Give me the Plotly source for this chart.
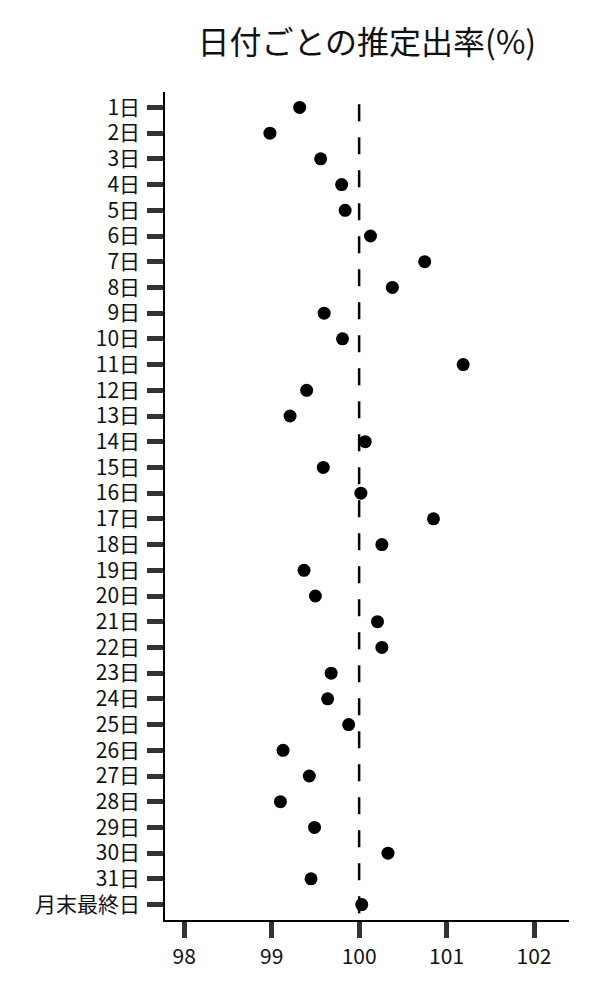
import plotly.graph_objects as go

days = [f"{d}日" for d in range(1, 32)] + ["月末最終日"]
rates = [
    99.32, 98.98, 99.56, 99.80, 99.84, 100.13, 100.75, 100.38, 99.60, 99.81,
    101.19, 99.40, 99.21, 100.07, 99.59, 100.02, 100.85, 100.26, 99.37, 99.50,
    100.21, 100.26, 99.68, 99.64, 99.88, 99.13, 99.43, 99.10, 99.49, 100.33,
    99.45, 100.03,
]
x_ticks = [98, 99, 100, 101, 102]
ref_rate = 100

FONT = "Noto Sans CJK JP"

fig = go.Figure()
fig.add_trace(
    go.Scatter(
        x=rates,
        y=days,
        mode="markers",
        marker=dict(color="black", size=13),
        showlegend=False,
    )
)

# reference line at 100%
fig.add_shape(
    type="line",
    xref="x",
    yref="y",
    x0=ref_rate,
    x1=ref_rate,
    y0=-0.12,
    y1=len(days) - 0.4,
    line=dict(color="black", width=2.5, dash="17px,16px"),
    layer="below",
)

fig.update_layout(
    width=600,
    height=1000,
    margin=dict(l=157, r=39, t=84, b=88),
    plot_bgcolor="white",
    paper_bgcolor="white",
    font=dict(family=FONT, size=21, color="#111111"),
    title=dict(
        text="日付ごとの推定出率(%)",
        font=dict(family=FONT, size=32, color="#111111"),
        x=0.598,
        xanchor="center",
        y=0.965,
        yanchor="middle",
    ),
)
fig.update_xaxes(
    range=[97.78, 102.4],
    tickvals=x_ticks,
    ticktext=[str(v) for v in x_ticks],
    showgrid=False,
    zeroline=False,
    showline=True,
    linecolor="black",
    linewidth=1.5,
    ticks="outside",
    ticklen=16,
    tickwidth=5,
    tickcolor="#333333",
    ticklabelstandoff=1,
)
fig.update_yaxes(
    type="category",
    categoryorder="array",
    categoryarray=days,
    range=[len(days) - 0.4, -0.6],
    showgrid=False,
    zeroline=False,
    showline=True,
    linecolor="black",
    linewidth=1.5,
    ticks="outside",
    ticklen=16,
    tickwidth=5,
    tickcolor="#333333",
    ticklabelstandoff=3,
)

fig.write_html("out.html")
